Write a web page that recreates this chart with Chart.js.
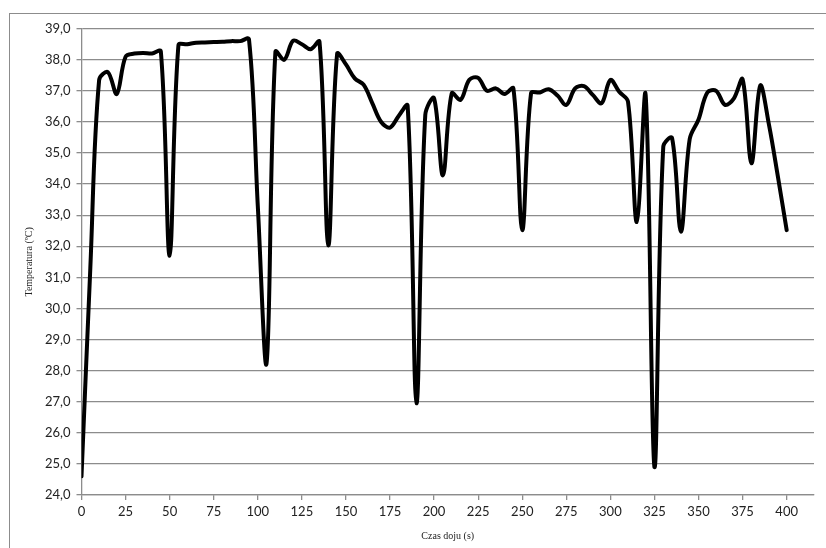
<!DOCTYPE html>
<html lang="pl">
<head>
<meta charset="UTF-8">
<script src="https://cdn.jsdelivr.net/npm/chart.js"></script>
<style>
  html, body { margin: 0; padding: 0; background: #fff; }
  #wrap { position: relative; width: 826px; height: 548px; overflow: hidden; }
  #frame { position: absolute; left: 9px; top: 13px; width: 840px; height: 560px; border: 1px solid #8c8c8c; }
  canvas { position: absolute; left: 0; top: 0; }
</style>
</head>
<body>
<div id="wrap">
  <div id="frame"></div>
  <canvas id="chart" width="826" height="548"></canvas>
</div>
<script>
// czas doju (s)
const czas = [0, 5, 10, 15, 20, 25, 30, 35, 40, 45, 50, 55, 60, 65, 70, 75, 80, 85, 90, 95,
  100, 105, 110, 115, 120, 125, 130, 135, 140, 145, 150, 155, 160, 165, 170, 175, 180, 185, 190, 195,
  200, 205, 210, 215, 220, 225, 230, 235, 240, 245, 250, 255, 260, 265, 270, 275, 280, 285, 290, 295,
  300, 305, 310, 315, 320, 325, 330, 335, 340, 345, 350, 355, 360, 365, 370, 375, 380, 385, 390, 395, 400];

// temperatura (ºC)
const temperatura = [24.6, 31.3, 37.35, 37.6, 36.9, 38.1, 38.2, 38.22, 38.2, 38.27,
  31.7, 38.47, 38.5, 38.55, 38.56, 38.57, 38.58, 38.6, 38.6, 38.66,
  33.3, 28.25, 38.26, 38.0, 38.61, 38.5, 38.34, 38.58, 32.03, 38.19,
  37.85, 37.4, 37.2, 36.6, 36.0, 35.82, 36.2, 36.52, 26.95, 36.22,
  36.76, 34.28, 36.92, 36.71, 37.36, 37.42, 37.0, 37.08, 36.9, 37.08,
  32.52, 36.92, 36.95, 37.05, 36.85, 36.55, 37.08, 37.15, 36.87, 36.6,
  37.35, 36.97, 36.65, 32.78, 36.87, 24.9, 35.2, 35.48, 32.47, 35.45,
  36.08, 36.95, 37.0, 36.55, 36.75, 37.37, 34.67, 37.17, 35.9, 34.25, 32.52];

const yTicks = [24, 25, 26, 27, 28, 29, 30, 31, 32, 33, 34, 35, 36, 37, 38, 39];
const xTicks = [0, 25, 50, 75, 100, 125, 150, 175, 200, 225, 250, 275, 300, 325, 350, 375, 400];

const punkty = czas.map((t, i) => ({ x: t, y: temperatura[i] }));

const szary = '#8c8c8c';
const tickFont = { family: 'Lato', size: 13 };

new Chart(document.getElementById('chart').getContext('2d'), {
  type: 'line',
  data: {
    datasets: [{
      data: punkty,
      borderColor: '#000',
      borderWidth: 4,
      pointRadius: 0,
      tension: 0.35,
      fill: false,
      borderCapStyle: 'round',
      borderJoinStyle: 'round'
    }]
  },
  options: {
    responsive: false,
    animation: false,
    layout: { padding: { left: 23, top: 28.7, right: 12, bottom: 6 } },
    plugins: { legend: { display: false }, tooltip: { enabled: false } },
    scales: {
      x: {
        type: 'linear',
        min: 0,
        max: 415.5,
        afterBuildTicks: s => { s.ticks = xTicks.map(v => ({ value: v })); },
        afterFit: s => { s.height = 548 - 495 - 6; },
        grid: { drawOnChartArea: false, drawTicks: true, tickLength: 5, color: szary, lineWidth: 1.3 },
        border: { color: szary, width: 1.3 },
        ticks: { color: '#222', font: tickFont, padding: 4, maxRotation: 0, autoSkip: false },
        title: { display: true, text: 'Czas doju (s)', color: '#222', font: { family: 'Liberation Serif', size: 10 }, padding: { top: 2, bottom: 0 } }
      },
      y: {
        min: 24,
        max: 39,
        afterBuildTicks: s => { s.ticks = yTicks.map(v => ({ value: v })); },
        afterFit: s => { s.width = 81.5 - 23; },
        grid: { color: szary, lineWidth: 1.3, tickLength: 5 },
        border: { color: szary, width: 1.3 },
        ticks: { color: '#222', font: tickFont, padding: 6, callback: v => v.toFixed(1).replace('.', ',') },
        title: { display: true, text: 'Temperatura (ºC)', color: '#222', font: { family: 'Liberation Serif', size: 10 }, padding: { top: 0, bottom: 2 } }
      }
    }
  }
});
</script>
</body>
</html>
